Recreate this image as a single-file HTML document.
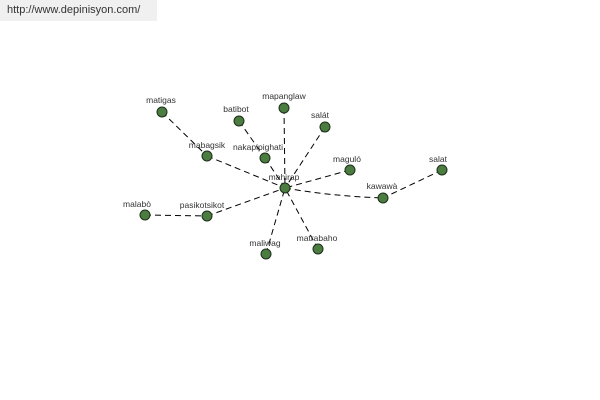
<!DOCTYPE html>
<html><head><meta charset="utf-8"><style>
html,body{margin:0;padding:0;background:#fff;width:600px;height:400px;overflow:hidden}
.hdr{position:absolute;left:0;top:0;width:157px;height:21px;background:#f0f0f0;font:11px "Liberation Sans",sans-serif;color:#333;line-height:21px;padding-left:7px;box-sizing:border-box}
svg{position:absolute;left:0;top:0}
text{font-family:"Liberation Sans",sans-serif;font-size:8.5px;fill:#333;text-anchor:middle}
</style></head><body>
<div class="hdr">http://www.depinisyon.com/</div>
<svg width="600" height="400">
<g stroke="#000" stroke-width="1" stroke-dasharray="6,4" fill="none">
<line x1="162" y1="112" x2="207" y2="156"/>
<line x1="207" y1="156" x2="285" y2="188"/>
<line x1="239" y1="121" x2="265" y2="158"/>
<line x1="265" y1="158" x2="285" y2="188"/>
<line x1="284" y1="108" x2="285" y2="188"/>
<line x1="325" y1="127" x2="285" y2="188"/>
<line x1="350" y1="170" x2="285" y2="188"/>
<path d="M285 188 Q330 196 383 198"/>
<line x1="442" y1="170" x2="383" y2="198"/>
<line x1="207" y1="216" x2="285" y2="188"/>
<line x1="145" y1="215" x2="207" y2="216"/>
<line x1="266" y1="254" x2="285" y2="188"/>
<line x1="318" y1="249" x2="285" y2="188"/>
</g>
<g fill="#4a7d3f" stroke="#1e2e1a" stroke-width="1">
<circle cx="162" cy="112" r="5"/><circle cx="239" cy="121" r="5"/><circle cx="284" cy="108" r="5"/>
<circle cx="325" cy="127" r="5"/><circle cx="207" cy="156" r="5"/><circle cx="265" cy="158" r="5"/>
<circle cx="285" cy="188" r="5"/><circle cx="350" cy="170" r="5"/><circle cx="442" cy="170" r="5"/>
<circle cx="383" cy="198" r="5"/><circle cx="145" cy="215" r="5"/><circle cx="207" cy="216" r="5"/>
<circle cx="266" cy="254" r="5"/><circle cx="318" cy="249" r="5"/>
</g>
<text x="161" y="103">matigas</text>
<text x="236" y="112">batibot</text>
<text x="284" y="99">mapanglaw</text>
<text x="320" y="118">salát</text>
<text x="207" y="148">mabagsik</text>
<text x="258" y="150">nakapipighati</text>
<text x="284" y="180">mahirap</text>
<text x="347" y="162">maguló</text>
<text x="438" y="162">salat</text>
<text x="382" y="189">kawawà</text>
<text x="137" y="207">malabò</text>
<text x="202" y="208">pasikotsikot</text>
<text x="265" y="246">maliwag</text>
<text x="317" y="241">matrabaho</text>
</svg>
</body></html>
